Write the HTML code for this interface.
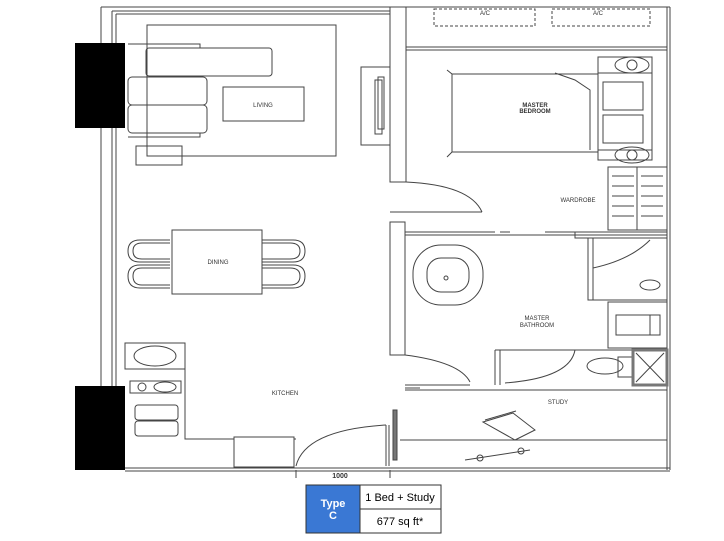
<!DOCTYPE html>
<html><head><style>
html,body{margin:0;padding:0;background:#fff;}
svg{display:block}
text{font-family:"Liberation Sans",sans-serif;}
</style></head><body>
<svg width="724" height="541" viewBox="0 0 724 541" xmlns="http://www.w3.org/2000/svg">
<g fill="none" stroke="#444" stroke-width="1">
<!-- outer walls -->
<path d="M101 7H390M112 11H390M116 14H390"/>
<path d="M101 7V470M112 11V470M116 14V470"/>
<path d="M406 7H670M667 7V470M670 7V470"/>
<path d="M125 468H670M125 471H670"/>
<!-- central wall -->
<rect x="390" y="7" width="16" height="175"/>
<rect x="390" y="222" width="15" height="133"/>
<path d="M406 47H667M406 50H667"/>
<!-- A/C -->
<rect x="434" y="9" width="101" height="17" stroke-dasharray="3,2"/>
<rect x="552" y="9" width="98" height="17" stroke-dasharray="3,2"/>
<!-- living -->
<rect x="147" y="25" width="189" height="131"/>
<rect x="146" y="48" width="126" height="28" rx="3"/>
<rect x="128" y="77" width="79" height="28" rx="4"/>
<rect x="128" y="105" width="79" height="28" rx="4"/>
<path d="M128 44H200V48M128 137H200V133"/>
<rect x="223" y="87" width="81" height="34"/>
<rect x="136" y="146" width="46" height="19"/>
<rect x="361" y="67" width="29" height="78"/>
<rect x="375" y="80" width="7" height="54"/><rect x="378" y="77" width="6" height="52"/>
<!-- dining -->
<rect x="172" y="230" width="90" height="64"/>
<path d="M170 240H140Q128 240 128 251Q128 262 140 262H170M170 243H142Q133 243 133 251Q133 259 142 259H170"/>
<path d="M170 265H140Q128 265 128 276Q128 288 140 288H170M170 268H142Q133 268 133 276Q133 285 142 285H170"/>
<path d="M262 240H293Q305 240 305 251Q305 262 293 262H262M262 243H290Q300 243 300 251Q300 259 290 259H262"/>
<path d="M262 265H293Q305 265 305 276Q305 288 293 288H262M262 268H290Q300 268 300 276Q300 285 290 285H262"/>
<!-- kitchen -->
<path d="M125 343H185V439H234M294 439H296"/>
<rect x="125" y="343" width="60" height="26"/>
<ellipse cx="155" cy="356" rx="21" ry="10"/>
<rect x="130" y="381" width="51" height="12"/>
<circle cx="142" cy="387" r="4"/><ellipse cx="165" cy="387" rx="11" ry="5"/>
<rect x="135" y="405" width="43" height="15" rx="3"/><rect x="135" y="421" width="43" height="15" rx="3"/>
<rect x="234" y="437" width="60" height="30"/>
<path d="M296 466Q305 430 386 425" /><path d="M386 425V466M389 425V466"/>
<rect x="393" y="410" width="4" height="50" fill="#777"/>
<!-- bedroom -->
<path d="M447 70L452 74H598V152H452L447 157" />
<path d="M452 74V152"/>
<rect x="598" y="73" width="54" height="77"/>
<rect x="598" y="57" width="54" height="103"/>
<rect x="603" y="82" width="40" height="28"/><rect x="603" y="115" width="40" height="28"/>
<ellipse cx="632" cy="65" rx="17" ry="8"/><ellipse cx="632" cy="155" rx="17" ry="8"/>
<circle cx="632" cy="65" r="5"/><circle cx="632" cy="155" r="5"/>
<path d="M555 73L575 80L590 90V150"/>
<rect x="608" y="167" width="59" height="63"/><path d="M637 167V230"/>
<path d="M612 176h22M612 186h22M612 196h22M612 206h22M612 216h22M641 176h22M641 186h22M641 196h22M641 206h22M641 216h22"/>
<path d="M406 182Q470 185 482 212"/>
<path d="M390 212H482"/>
<!-- bathroom -->
<path d="M405 232H495M500 232H510M545 232H610M405 235H667"/>
<rect x="575" y="232" width="92" height="6"/>
<rect x="413" y="245" width="70" height="60" rx="28"/>
<rect x="427" y="258" width="42" height="34" rx="14"/>
<circle cx="446" cy="278" r="2"/>
<path d="M588 238V300H667M593 238V300M593 268Q630 260 650 240"/>
<ellipse cx="650" cy="285" rx="10" ry="5"/>
<rect x="608" y="302" width="59" height="46"/>
<rect x="616" y="315" width="44" height="20"/><path d="M650 315V335"/>
<path d="M495 350V385M500 350V385M495 350H668M575 350Q570 378 505 383"/>
<ellipse cx="605" cy="366" rx="18" ry="8"/><rect x="618" y="357" width="14" height="20"/>
<rect x="633" y="350" width="34" height="35" stroke-width="3" stroke="#777"/>
<path d="M636 353L664 382M664 353L636 382"/>
<path d="M405 355Q460 362 470 382M405 385H470M405 390H667M405 388H420"/>
<!-- study -->
<path d="M400 440H667"/>
<path d="M483 422L513 413L535 430L515 440Z"/>
<path d="M485 420L516 411"/>
<path d="M465 460L530 450"/>
<circle cx="480" cy="458" r="3"/><circle cx="521" cy="451" r="3"/>
<path d="M296 470V478M390 470V478"/>
</g>
<!-- black blocks -->
<rect x="75" y="43" width="50" height="85" fill="#000"/>
<rect x="75" y="386" width="50" height="84" fill="#000"/>
<g fill="#333" font-size="6" text-anchor="middle">
<text x="263" y="107">LIVING</text>
<text x="218" y="264">DINING</text>
<text x="285" y="395">KITCHEN</text>
<text x="535" y="107" font-weight="bold">MASTER</text>
<text x="535" y="113" font-weight="bold">BEDROOM</text>
<text x="578" y="202">WARDROBE</text>
<text x="537" y="320">MASTER</text>
<text x="537" y="327">BATHROOM</text>
<text x="558" y="404">STUDY</text>
<text x="485" y="15">A/C</text>
<text x="598" y="15">A/C</text>
<text x="340" y="478" font-weight="bold" font-size="7">1000</text>
</g>
<!-- table -->
<rect x="306" y="485" width="54" height="48" fill="#3a78d4" stroke="#333"/>
<rect x="360" y="485" width="81" height="24" fill="#fff" stroke="#333"/>
<rect x="360" y="509" width="81" height="24" fill="#fff" stroke="#333"/>
<g font-size="11" text-anchor="middle">
<text x="333" y="507" fill="#fff" font-weight="bold">Type</text>
<text x="333" y="519" fill="#fff" font-weight="bold">C</text>
<text x="400" y="501" fill="#000">1 Bed + Study</text>
<text x="400" y="525" fill="#000">677 sq ft*</text>
</g>
</svg>
</body></html>
